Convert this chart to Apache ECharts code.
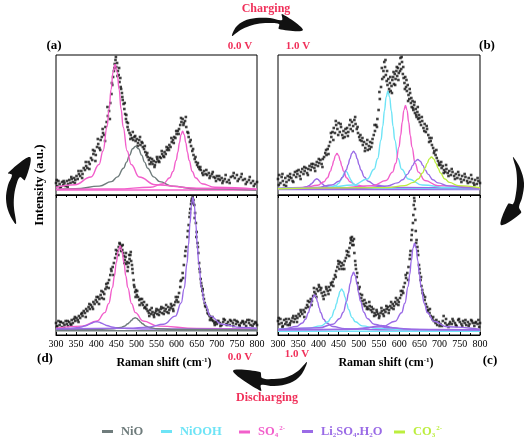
<!DOCTYPE html>
<html>
<head>
<meta charset="utf-8">
<script src="https://cdn.jsdelivr.net/npm/echarts@6/dist/echarts.min.js"></script>
<style>html,body{margin:0;padding:0;background:#fff;}#c{width:528px;height:440px;}</style>
</head>
<body>
<div id="c"></div>
<script>
// ---------- DATA ----------
const xMin = 300, xMax = 800, xStep = 50;
const yMin = 0, yMax = 140;
const legendNames = ['NiO', 'NiOOH', 'SO4', 'Li2SO4.H2O', 'CO3'];

// (a) 0.0 V charging start
const scatterA = [[300,12],[303,9],[306,14],[309,11],[312,8],[315,13],[318,10],[321,12],[324,9],[327,14],[330,11],[333,15],[336,12],[339,16],[342,13],[345,17],[348,15],[351,19],[354,16],[357,21],[360,19],[363,24],[366,21],[369,27],[372,25],[375,29],[378,27],[381,33],[384,31],[387,37],[390,35],[393,41],[396,44],[399,40],[402,48],[405,51],[408,47],[411,55],[414,58],[417,62],[420,60],[423,68],[426,73],[429,79],[432,84],[435,92],[438,101],[440,110],[442,118],[444,124],[446,131],[448,135],[450,128],[452,132],[454,124],[456,120],[458,113],[460,117],[462,106],[464,102],[466,95],[468,91],[470,86],[472,81],[474,76],[476,73],[478,68],[480,65],[483,62],[486,60],[489,57],[492,55],[495,58],[498,54],[501,56],[504,52],[507,55],[510,50],[513,53],[516,48],[519,46],[522,43],[525,40],[528,38],[531,35],[534,37],[537,33],[540,31],[543,34],[546,30],[549,33],[552,36],[555,34],[558,38],[561,37],[564,41],[567,39],[570,43],[573,41],[576,45],[579,47],[582,50],[585,48],[588,53],[591,55],[594,58],[597,57],[600,61],[603,64],[606,66],[609,70],[612,73],[615,76],[618,72],[621,74],[624,68],[627,63],[630,58],[633,53],[636,49],[639,44],[642,40],[645,36],[648,33],[651,30],[654,28],[657,26],[660,25],[664,22],[668,24],[672,21],[676,20],[680,22],[684,19],[688,21],[692,18],[696,17],[700,19],[704,16],[708,15],[712,17],[716,14],[720,16],[725,13],[730,15],[735,18],[740,19],[745,17],[750,20],[755,16],[760,18],[765,15],[770,16],[775,13],[780,15],[785,12],[790,14],[795,11],[800,13]];
const scatterA2 = [[302,15],[310,7],[319,14],[329,8],[338,18],[347,12],[356,24],[365,17],[374,33],[383,26],[392,45],[398,34],[404,56],[410,45],[416,66],[422,54],[428,88],[434,76],[439,112],[445,127],[449,138],[453,119],[457,127],[461,108],[465,98],[471,92],[475,80],[479,72],[485,56],[491,63],[497,59],[503,49],[509,58],[515,52],[521,49],[527,42],[533,31],[539,36],[545,28],[551,38],[557,33],[563,44],[569,38],[575,48],[581,45],[587,57],[593,52],[599,64],[605,61],[611,77],[617,70],[623,78],[629,62],[635,55],[641,46],[647,38],[653,32],[659,28],[666,20],[674,25],[682,17],[690,23],[698,14],[706,19],[714,12],[722,20],[732,12],[742,22],[752,14],[762,21],[772,11],[782,18],[792,9]];
const aSO4_1 = [[300,7.8],[347,10.3],[387,18],[407,30.5],[417,44],[427,68],[432,85.5],[437,105.5],[442,123.1],[447,130.5],[452,123.1],[457,105.5],[462,85.5],[467,68],[477,44],[487,30.5],[507,18],[547,10.3],[650,6.7],[800,5.9]];
const aNiO = [[300,5.5],[348,6.2],[408,8.9],[438,13.4],[453,18.1],[468,26.7],[475.5,32.9],[483,39.9],[490.5,46.2],[498,48.8],[505.5,46.2],[513,39.9],[520.5,32.9],[528,26.7],[543,18.1],[558,13.4],[588,8.9],[648,6.2],[800,4.9]];
const aSO4_2 = [[300,5.7],[450,6.0],[535,7.7],[567,11.3],[583,17.2],[591,23.5],[599,34.7],[603,42.8],[607,52.1],[611,60.4],[615,63.8],[619,60.4],[623,52.1],[627,42.8],[631,34.7],[639,23.5],[647,17.2],[663,11.3],[695,7.7],[800,5.9]];
const aBase = [[300,5],[800,5]];

// (b) 1.0 V
const scatterB = [[300,16],[303,20],[306,12],[309,18],[312,14],[315,10],[318,17],[321,13],[324,19],[327,15],[330,21],[333,17],[336,14],[339,20],[342,23],[345,18],[348,21],[351,25],[354,19],[357,23],[360,26],[363,21],[366,24],[369,27],[372,22],[375,26],[378,29],[381,25],[384,28],[387,31],[390,27],[393,30],[396,33],[399,29],[402,32],[405,35],[408,31],[411,36],[414,38],[417,42],[420,40],[423,46],[426,49],[429,53],[432,58],[435,63],[438,67],[441,62],[444,70],[447,66],[450,72],[453,63],[456,68],[459,60],[462,64],[465,58],[468,62],[471,67],[474,63],[477,70],[480,66],[483,73],[486,69],[489,75],[492,71],[495,66],[498,62],[501,58],[504,60],[507,54],[510,50],[513,53],[516,47],[519,51],[522,45],[525,49],[528,53],[531,48],[534,56],[537,60],[540,64],[543,70],[546,76],[549,85],[552,96],[555,108],[558,116],[561,124],[563,133],[565,128],[567,120],[569,114],[571,110],[573,116],[575,106],[577,112],[579,104],[581,109],[583,115],[585,118],[587,111],[589,121],[591,116],[593,124],[595,119],[597,127],[599,122],[601,131],[603,137],[605,126],[607,133],[609,121],[611,117],[613,112],[615,118],[617,108],[619,104],[621,110],[623,100],[625,96],[627,102],[629,92],[631,88],[633,94],[635,85],[637,90],[639,82],[641,86],[643,78],[645,83],[647,76],[649,80],[651,73],[654,70],[657,74],[660,67],[663,71],[666,63],[669,66],[672,60],[675,57],[678,54],[681,50],[684,47],[687,44],[690,40],[693,37],[696,34],[699,32],[702,30],[705,27],[708,29],[711,25],[714,23],[717,26],[720,22],[724,24],[728,20],[732,23],[736,19],[740,21],[744,17],[748,20],[752,16],[756,19],[760,15],[764,18],[768,14],[772,17],[776,13],[780,16],[784,12],[788,15],[792,11],[796,14],[800,12]];
const scatterB2 = [[302,10],[311,21],[320,9],[329,18],[338,13],[347,24],[356,16],[365,28],[374,20],[383,31],[392,24],[401,36],[410,28],[419,45],[425,41],[431,62],[437,55],[443,74],[449,60],[455,71],[461,57],[467,66],[473,59],[479,75],[485,64],[491,78],[497,68],[503,55],[509,57],[515,44],[521,55],[527,46],[533,52],[539,70],[545,68],[551,103],[557,127],[562,118],[566,135],[570,124],[574,103],[578,118],[582,102],[586,123],[590,110],[594,128],[598,115],[602,124],[606,138],[610,128],[614,106],[618,115],[622,94],[626,106],[630,97],[634,87],[638,93],[642,80],[646,88],[650,77],[656,78],[662,64],[668,69],[674,53],[680,57],[686,42],[692,45],[698,30],[704,33],[710,22],[716,30],[722,19],[730,26],[738,16],[746,23],[754,13],[762,21],[770,12],[778,20],[786,10],[794,17]];
const bLi_1 = [[300,6.4],[331,6.6],[357,7.2],[370,8.2],[376.5,9.3],[383,11.2],[386.25,12.6],[389.5,14.2],[392.75,15.6],[396,16.2],[399.25,15.6],[402.5,14.2],[405.75,12.6],[409,11.2],[415.5,9.3],[422,8.2],[435,7.2],[461,6.6],[800,6.2]];
const bSO4_1 = [[300,6.6],[366,7.6],[398,9.7],[414,13.3],[422,17.1],[430,23.9],[434,28.8],[438,34.4],[442,39.4],[446,41.5],[450,39.4],[454,34.4],[458,28.8],[462,23.9],[470,17.1],[478,13.3],[494,9.7],[526,7.6],[800,6.3]];
const bNiOOH_1 = [[300,6.3],[408,6.9],[432,8.0],[444,9.7],[450,11.6],[456,15.0],[459,17.5],[462,20.3],[465,22.8],[468,23.8],[471,22.8],[474,20.3],[477,17.5],[480,15.0],[486,11.6],[492,9.7],[504,8.0],[528,6.9],[800,6.2]];
const bLi_2 = [[300,6.5],[397,7.6],[433,10.0],[451,13.7],[460,17.8],[469,25.0],[473.5,30.3],[478,36.3],[482.5,41.6],[487,43.8],[491.5,41.6],[496,36.3],[500.5,30.3],[505,25.0],[514,17.8],[523,13.7],[541,10.0],[577,7.6],[800,6.3]];
const bNiOOH_2 = [[300,6.6],[420,7.4],[487,10.0],[521,16.0],[538,25.7],[546.5,36.3],[555,55.0],[559.25,68.7],[563.5,84.3],[567.75,98.0],[572,103.8],[576.25,98.0],[580.5,84.3],[584.75,68.7],[589,55.0],[597.5,36.3],[606,25.7],[623,16.0],[657,10.0],[720,7.5],[800,6.7]];
const bSO4_2 = [[300,6.4],[450,7.0],[535.5,9.4],[567.5,14.5],[583.5,22.9],[591.5,31.8],[599.5,47.9],[603.5,59.5],[607.5,72.8],[611.5,84.6],[615.5,89.5],[619.5,84.6],[623.5,72.8],[627.5,59.5],[631.5,47.9],[639.5,31.8],[647.5,22.9],[663.5,14.5],[695.5,9.4],[800,6.8]];
const bLi_3 = [[300,6.4],[521,7.3],[571,9.1],[596,12.1],[608.5,15.2],[621,20.9],[627.25,24.9],[633.5,29.6],[639.75,33.8],[646,35.5],[652.25,33.8],[658.5,29.6],[664.75,24.9],[671,20.9],[683.5,15.2],[696,12.1],[721,9.1],[771,7.3],[800,7.0]];
const bCO3 = [[300,6.3],[570,7.4],[614,9.4],[636,12.6],[647,16.0],[658,22.1],[663.5,26.6],[669,31.6],[674.5,36.1],[680,38],[685.5,36.1],[691,31.6],[696.5,26.6],[702,22.1],[713,16.0],[724,12.6],[746,9.4],[800,7.2]];
const bBase = [[300,5.5],[800,5.5]];

// (c) 1.0 V discharging start
const scatterC = [[300,14],[303,11],[306,16],[309,12],[312,9],[315,15],[318,11],[321,13],[324,10],[327,16],[330,12],[333,14],[336,17],[339,13],[342,16],[345,19],[348,17],[351,21],[354,19],[357,23],[360,21],[363,25],[366,23],[369,27],[372,30],[375,28],[378,33],[381,36],[384,34],[387,39],[390,43],[393,41],[396,46],[399,44],[402,48],[405,45],[408,42],[411,39],[414,43],[417,40],[420,46],[423,44],[426,48],[429,45],[432,50],[435,53],[438,56],[441,60],[444,64],[447,68],[450,71],[453,73],[456,69],[459,66],[462,70],[465,74],[468,77],[471,80],[474,83],[477,87],[479,92],[481,95],[483,98],[485,94],[487,90],[489,82],[491,74],[493,66],[495,58],[497,52],[500,46],[503,41],[506,37],[509,34],[512,31],[515,29],[518,32],[521,28],[524,26],[527,29],[530,25],[533,23],[536,26],[539,22],[542,20],[545,23],[548,21],[551,19],[554,22],[557,24],[560,21],[563,25],[566,23],[569,26],[572,28],[575,25],[578,29],[581,27],[584,31],[587,29],[590,33],[593,31],[596,35],[599,33],[602,37],[605,40],[608,44],[611,48],[614,52],[617,57],[620,62],[623,68],[626,76],[628,84],[630,95],[632,105],[634,112],[636,130],[637,137],[639,126],[641,104],[643,95],[645,88],[647,80],[649,70],[651,62],[653,55],[655,49],[657,45],[660,40],[663,35],[666,31],[669,28],[672,25],[675,22],[678,19],[682,16],[686,14],[690,12],[694,10],[698,13],[702,11],[706,9],[710,19],[714,12],[718,10],[722,8],[726,13],[730,11],[734,14],[738,12],[742,9],[746,15],[750,13],[754,11],[758,14],[762,12],[766,10],[770,13],[774,11],[778,15],[782,12],[786,9],[790,13],[794,11],[798,8],[800,12]];
const scatterC2 = [[302,17],[311,8],[320,16],[329,10],[338,19],[347,13],[356,25],[365,18],[374,34],[383,30],[389,47],[395,38],[401,50],[407,47],[413,36],[419,48],[425,41],[431,52],[437,49],[443,58],[449,74],[452,66],[458,72],[464,66],[470,84],[476,79],[480,97],[484,90],[488,96],[492,70],[496,62],[502,48],[508,40],[514,35],[520,26],[526,33],[532,28],[538,19],[544,25],[550,17],[556,27],[562,19],[568,29],[574,22],[580,33],[586,26],[592,37],[598,30],[604,44],[610,42],[616,60],[622,55],[627,80],[631,100],[635,120],[638,134],[640,115],[642,92],[646,84],[650,66],[654,58],[658,42],[664,38],[670,24],[676,26],[684,18],[692,15],[700,9],[708,14],[716,16],[724,11],[732,16],[740,10],[748,16],[756,9],[764,15],[772,9],[780,14],[788,12],[796,15]];
const cLi_1 = [[300,5.9],[315.5,6.35],[345.5,8.5],[360.5,12],[368,15.8],[375.5,22.5],[379.25,27.4],[383,33],[386.75,37.9],[390.5,40],[394.25,37.9],[398,33],[401.75,27.4],[405.5,22.5],[413,15.8],[420.5,12],[435.5,8.5],[465.5,6.35],[550,5.3],[800,5.05]];
const cNiOOH = [[300,5.5],[372.5,6.6],[406.5,9.1],[423.5,13.2],[432,17.6],[440.5,25.5],[444.75,31.2],[449,37.8],[453.25,43.6],[457.5,46],[461.75,43.6],[466,37.8],[470.25,31.2],[474.5,25.5],[483,17.6],[491.5,13.2],[508.5,9.1],[542.5,6.6],[620,5.4],[800,5.1]];
const cLi_2 = [[300,5.5],[402,7.2],[436,10.8],[453,16.5],[461.5,22.8],[470,33.9],[474.25,41.9],[478.5,51.2],[482.75,59.3],[487,62.7],[491.25,59.3],[495.5,51.2],[499.75,41.9],[504,33.9],[512.5,22.8],[521,16.5],[538,10.8],[572,7.2],[650,5.6],[800,5.2]];
const cLi_3 = [[300,5.2],[405,5.2],[465,5.45],[495,5.9],[510,6.4],[525,7.25],[532.5,7.9],[540,8.6],[547.5,9.2],[555,9.5],[562.5,9.2],[570,8.6],[577.5,7.9],[585,7.25],[600,6.4],[615,5.9],[645,5.45],[705,5.2],[800,5.1]];
const cLi_4 = [[300,5.2],[470,5.8],[558,8.3],[590,13.7],[606,22.3],[614,31.7],[622,48.4],[626,60.5],[630,74.4],[634,86.6],[638,91.7],[642,86.6],[646,74.4],[650,60.5],[654,48.4],[662,31.7],[670,22.3],[686,13.7],[718,8.3],[800,5.8]];
const cBase = [[300,3.8],[800,3.8]];

// (d) 0.0 V discharging end
const scatterD = [[300,12],[303,9],[306,14],[309,10],[312,13],[315,8],[318,12],[321,10],[324,14],[327,11],[330,9],[333,13],[336,11],[339,15],[342,12],[345,16],[348,14],[351,17],[354,15],[357,19],[360,17],[363,21],[366,19],[369,24],[372,22],[375,26],[378,24],[381,28],[384,26],[387,30],[390,28],[393,33],[396,31],[399,35],[402,33],[405,38],[408,36],[411,40],[414,37],[417,43],[420,41],[423,46],[426,48],[429,52],[432,55],[435,60],[438,64],[441,68],[444,72],[447,77],[450,81],[453,84],[456,88],[459,91],[461,87],[463,89],[465,85],[467,82],[469,79],[471,75],[473,78],[475,71],[477,73],[479,68],[481,72],[483,76],[485,80],[487,74],[489,70],[491,62],[493,55],[495,48],[497,43],[499,45],[501,40],[504,38],[507,35],[510,36],[513,32],[516,30],[519,33],[522,28],[525,26],[528,24],[531,22],[534,25],[537,21],[540,23],[543,20],[546,22],[549,24],[552,21],[555,25],[558,23],[561,26],[564,22],[567,27],[570,24],[573,26],[576,23],[579,28],[582,25],[585,27],[588,29],[591,26],[594,30],[597,33],[600,35],[603,38],[606,42],[609,48],[612,55],[615,62],[618,70],[621,79],[624,88],[627,98],[630,110],[632,118],[634,126],[636,131],[638,136],[640,138],[642,135],[644,130],[646,122],[648,112],[650,103],[652,92],[654,82],[656,72],[658,63],[660,56],[662,49],[664,44],[666,40],[668,36],[670,32],[673,28],[676,25],[679,21],[682,19],[685,17],[688,15],[691,14],[694,12],[697,13],[700,11],[704,14],[708,12],[712,10],[716,13],[720,15],[724,11],[728,13],[732,10],[736,14],[740,12],[744,15],[748,11],[752,13],[756,10],[760,12],[764,14],[768,11],[772,13],[776,15],[780,12],[784,10],[788,14],[792,11],[796,13],[800,10]];
const scatterD2 = [[302,8],[311,13],[320,7],[329,14],[338,10],[347,18],[356,13],[365,22],[374,18],[383,31],[392,26],[401,38],[407,31],[413,44],[419,36],[425,51],[431,47],[437,66],[443,60],[449,85],[455,80],[458,92],[462,84],[466,90],[470,72],[474,82],[478,64],[482,80],[486,83],[490,66],[494,50],[498,38],[502,44],[508,30],[514,36],[520,27],[526,30],[532,19],[538,27],[544,18],[550,26],[556,20],[562,28],[568,21],[574,30],[580,22],[586,31],[592,24],[598,38],[604,33],[610,54],[616,57],[622,84],[628,104],[633,122],[637,134],[641,132],[645,117],[649,98],[653,88],[657,66],[661,52],[665,46],[671,29],[677,22],[683,15],[689,18],[695,10],[701,14],[709,9],[717,16],[725,10],[733,15],[741,9],[749,14],[757,9],[765,13],[773,9],[781,15],[789,9],[797,12]];
const dLi_1 = [[300,6.1],[326,6.5],[351,7.2],[363.5,8.05],[376,9.5],[382.25,10.6],[388.5,11.8],[394.75,12.85],[401,13.3],[407.25,12.85],[413.5,11.8],[419.75,10.6],[426,9.5],[438.5,8.05],[451,7.2],[476,6.5],[526,6.0],[800,5.7]];
const dSO4 = [[300,6.9],[364.5,8.9],[402.5,14.0],[421.5,22.4],[431,31.4],[440.5,47.4],[445.25,59.0],[450,72.3],[454.75,84.1],[459.5,89],[464.25,84.1],[469,72.3],[473.75,59.0],[478.5,47.4],[488,31.4],[497.5,22.4],[516.5,14.0],[554.5,8.9],[650,6.5],[800,6.0]];
const dNiO = [[300,5.2],[407,5.6],[443,6.3],[461,7.5],[470,8.8],[479,11.2],[483.5,12.9],[488,14.8],[492.5,16.5],[497,17.2],[501.5,16.5],[506,14.8],[510.5,12.9],[515,11.2],[524,8.8],[533,7.5],[551,6.3],[587,5.6],[800,5.1]];
const dLi_2 = [[300,5.9],[480,6.8],[530,7.9],[568,10.8],[597,18.9],[611.5,32.1],[618.75,46.4],[626,71.7],[629.625,90.2],[633.25,111.3],[636.875,129.9],[640.5,137.7],[644.125,129.9],[647.75,111.3],[651.375,90.2],[655,71.7],[662.25,46.4],[669.5,32.1],[684,18.9],[713,10.8],[760,7.6],[800,6.8]];
const dBase = [[300,4.3],[800,4.3]];

// ---------- STYLE ----------
const COL = {
  'NiO': '#6f7c7c',
  'NiOOH': '#6ee4f6',
  'SO4': '#f25fcb',
  'Li2SO4.H2O': '#9a6be6',
  'CO3': '#bcee3e'
};
const RED = '#f0305a';
const SERIF = '"Liberation Serif", "DejaVu Serif", serif';

const grids = [
  {left: 56, top: 55, width: 201, height: 140},   // a
  {left: 278, top: 55, width: 202, height: 140},  // b
  {left: 278, top: 195, width: 202, height: 140}, // c
  {left: 56, top: 195, width: 201, height: 140}   // d
];

function xAxisFor(i, showLabels) {
  return {
    type: 'value', gridIndex: i, min: xMin, max: xMax, interval: xStep,
    axisLine: {show: true, lineStyle: {color: '#000', width: 1}},
    axisTick: {show: true, inside: showLabels, length: 3, lineStyle: {color: '#000'}},
    minorTick: {show: true, splitNumber: 2, length: 2, lineStyle: {color: '#000'}},
    splitLine: {show: false},
    axisLabel: {show: showLabels, color: '#000', fontFamily: SERIF, fontSize: 10, margin: 4}
  };
}
function yAxisFor(i) {
  return {type: 'value', gridIndex: i, min: yMin, max: yMax, show: false, splitLine: {show: false}};
}

const series = [];
function scat(i, data) {
  series.push({type: 'scatter', name: 'data', xAxisIndex: i, yAxisIndex: i, data: data,
    symbol: 'rect', symbolSize: 2.6, itemStyle: {color: '#111'}, z: 3, silent: true});
}
function curve(i, name, data) {
  series.push({type: 'line', name: name, xAxisIndex: i, yAxisIndex: i, data: data,
    showSymbol: false, symbol: 'none', smooth: 0.45, smoothMonotone: 'x',
    lineStyle: {color: COL[name], width: 1.4}, itemStyle: {color: COL[name]}, z: 4, silent: true});
}
// (a)
scat(0, scatterA.concat(scatterA2));
curve(0, 'SO4', aBase);
curve(0, 'NiO', aNiO);
curve(0, 'SO4', aSO4_1);
curve(0, 'SO4', aSO4_2);
// (b)
scat(1, scatterB.concat(scatterB2));
curve(1, 'Li2SO4.H2O', bBase);
curve(1, 'Li2SO4.H2O', bLi_1);
curve(1, 'SO4', bSO4_1);
curve(1, 'NiOOH', bNiOOH_1);
curve(1, 'Li2SO4.H2O', bLi_2);
curve(1, 'NiOOH', bNiOOH_2);
curve(1, 'SO4', bSO4_2);
curve(1, 'Li2SO4.H2O', bLi_3);
curve(1, 'CO3', bCO3);
// (c)
scat(2, scatterC.concat(scatterC2));
curve(2, 'NiOOH', cBase);
curve(2, 'Li2SO4.H2O', cLi_1);
curve(2, 'NiOOH', cNiOOH);
curve(2, 'Li2SO4.H2O', cLi_2);
curve(2, 'Li2SO4.H2O', cLi_3);
curve(2, 'Li2SO4.H2O', cLi_4);
// (d)
scat(3, scatterD.concat(scatterD2));
curve(3, 'NiO', dBase);
curve(3, 'SO4', dSO4);
curve(3, 'Li2SO4.H2O', dLi_1);
curve(3, 'NiO', dNiO);
curve(3, 'Li2SO4.H2O', dLi_2);

// legends (one per entry so each keeps its own colour and place)
const legendLabel = {
  'NiO': '{t|NiO}',
  'NiOOH': '{t|NiOOH}',
  'SO4': '{t|SO}{sb|4}{sp|2-}',
  'Li2SO4.H2O': '{t|Li}{sb|2}{t|SO}{sb|4}{t|.H}{sb|2}{t|O}',
  'CO3': '{t|CO}{sb|3}{sp|2-}'
};
const legendLeft = {'NiO': 102, 'NiOOH': 161, 'SO4': 239, 'Li2SO4.H2O': 302, 'CO3': 394};
const legends = legendNames.map(n => ({
  data: [n], left: legendLeft[n], top: 425, icon: 'rect', itemWidth: 11, itemHeight: 3, itemGap: 0,
  selectedMode: false, padding: 0,
  formatter: nm => legendLabel[nm],
  textStyle: {color: COL[n], fontFamily: SERIF, fontWeight: 'bold', fontSize: 12, padding: [0, 0, 0, 3],
    rich: {
      t: {color: COL[n], fontFamily: SERIF, fontWeight: 'bold', fontSize: 12.5},
      sb: {color: COL[n], fontFamily: SERIF, fontWeight: 'bold', fontSize: 7, verticalAlign: 'bottom', padding: [7, 0, 0, 0]},
      sp: {color: COL[n], fontFamily: SERIF, fontWeight: 'bold', fontSize: 7, verticalAlign: 'top', padding: [0, 0, 7, 1]}
    }}
}));

function txt(x, y, text, opts) {
  return Object.assign({type: 'text', x: x, y: y, z: 10, silent: true,
    style: Object.assign({text: text, fill: '#000', font: 'bold 11px ' + SERIF, align: 'center', verticalAlign: 'middle'}, opts || {})});
}
const ramanRich = {
  a: {fontFamily: SERIF, fontWeight: 'bold', fontSize: 12, fill: '#000', color: '#000'},
  s: {fontFamily: SERIF, fontWeight: 'bold', fontSize: 7, fill: '#000', color: '#000', verticalAlign: 'top', padding: [0, 0, 6, 0]}
};
function raman(x, y) {
  return {type: 'text', x: x, y: y, z: 10, silent: true,
    style: {text: '{a|Raman shift (cm}{s|-1}{a|)}', rich: ramanRich, align: 'center', verticalAlign: 'middle', fill: '#000'}};
}
function poly(points) {
  return {type: 'polygon', z: 10, silent: true, shape: {points: points, smooth: 0.35}, style: {fill: '#111'}};
}

const graphics = [
  txt(266, 9, 'Charging', {fill: RED, font: 'bold 12px ' + SERIF}),
  txt(267, 398, 'Discharging', {fill: RED, font: 'bold 12px ' + SERIF}),
  txt(54, 46, '(a)', {font: 'bold 13px ' + SERIF}),
  txt(487, 46, '(b)', {font: 'bold 13px ' + SERIF}),
  txt(490, 361, '(c)', {font: 'bold 13px ' + SERIF}),
  txt(45, 359, '(d)', {font: 'bold 13px ' + SERIF}),
  txt(240, 46, '0.0 V', {fill: RED}),
  txt(298, 46, '1.0 V', {fill: RED}),
  txt(240, 357, '0.0 V', {fill: RED}),
  txt(297, 354, '1.0 V', {fill: RED}),
  {type: 'text', x: 40, y: 185, rotation: Math.PI / 2, z: 10, silent: true,
    style: {text: 'Intensity (a.u.)', fill: '#000', font: 'bold 13px ' + SERIF, align: 'center', verticalAlign: 'middle'}},
  raman(164, 363),
  raman(386, 363),
  // charging arrow (top)
  poly([[232,36],[236,27],[244,21],[256,18],[270,18],[282,20],[282,14],[303,30],[279,29],[279,24],[268,23],[257,24],[247,27],[239,31]]),
  // right arrow (b -> c)
  poly([[513,157],[520,168],[524,183],[522,198],[519,207],[521,213],[501,225],[508,204],[513,204],[516,193],[517,181],[516,169]]),
  // discharging arrow (bottom)
  poly([[307,362],[301,375],[290,383],[274,386],[261,385],[261,391],[233,371],[260,372],[262,378],[274,379],[287,377],[298,371]]),
  // left arrow (d -> a)
  poly([[16,224],[9,213],[6,199],[8,185],[12,175],[8,173],[30,157],[25,180],[20,177],[16,186],[14,197],[14,208]])
];

const option = {
  animation: false,
  backgroundColor: '#fff',
  grid: grids.map(g => Object.assign({show: true, borderColor: '#000', borderWidth: 1, backgroundColor: 'transparent'}, g)),
  xAxis: [xAxisFor(0, false), xAxisFor(1, false), xAxisFor(2, true), xAxisFor(3, true)],
  yAxis: [yAxisFor(0), yAxisFor(1), yAxisFor(2), yAxisFor(3)],
  legend: legends,
  series: series,
  graphic: graphics
};
const chart = echarts.init(document.getElementById('c'), null, {renderer: 'canvas'});
chart.setOption(option);
</script>
</body>
</html>
